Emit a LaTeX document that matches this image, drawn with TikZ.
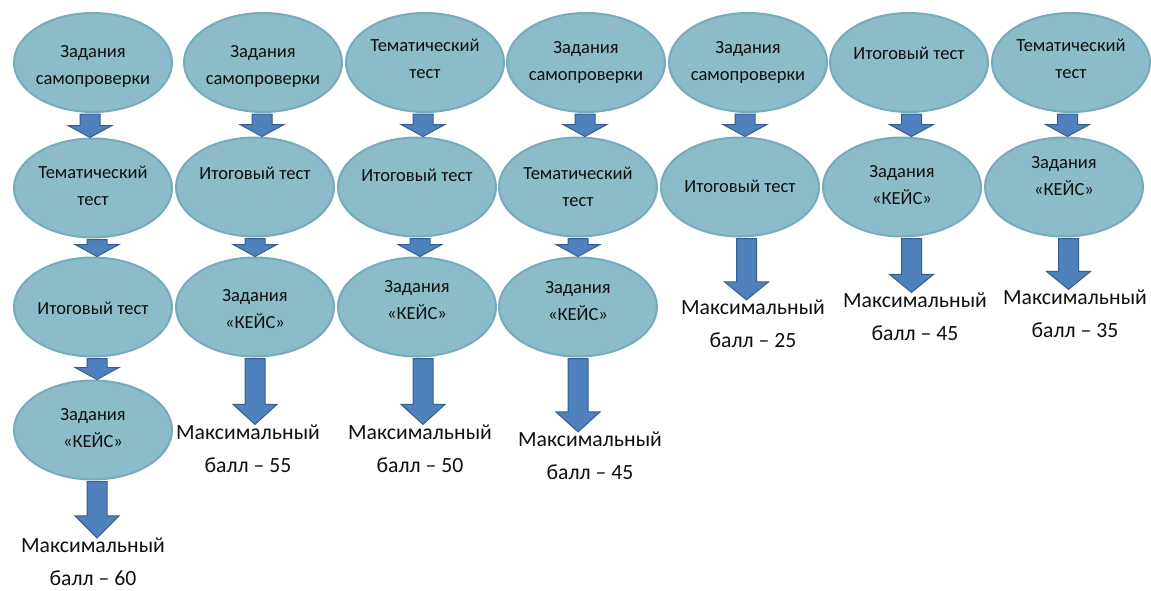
\documentclass[tikz,border=0pt]{standalone}
\usepackage{fontspec}
\setmainfont{Carlito}
\usetikzlibrary{shapes.geometric,calc}
\definecolor{elfill}{RGB}{140,188,201}
\definecolor{eldraw}{RGB}{118,170,188}
\definecolor{arfill}{RGB}{79,129,189}
\definecolor{ardraw}{RGB}{56,93,138}
\definecolor{txt}{RGB}{15,15,15}
\tikzset{
  oval/.style={ellipse, fill=elfill, draw=eldraw, line width=2pt,
    minimum width=158pt, minimum height=99pt, inner sep=0pt},
  otext/.style={align=center, font=\fontsize{18.5}{27}\selectfont, inner sep=0pt, text=txt},
  result/.style={align=center, font=\fontsize{21.7}{33}\selectfont, inner sep=0pt, text=txt},
  barr/.style={fill=arfill, draw=ardraw, line width=1pt, line join=miter},
}
% #1 from node, #2 to node, #3 head length, #4 x shift
\newcommand\barrow[4]{%
  \path[barr] let \p1=(#1.south), \p2=(#2.north), \n1={(\x1+\x2)/2+#4pt} in
   (\n1-10pt,\y1-1pt) -- (\n1+10pt,\y1-1pt) -- (\n1+10pt,\y2+#3) -- (\n1+22pt,\y2+#3)
   -- (\n1,\y2) -- (\n1-22pt,\y2+#3) -- (\n1-10pt,\y2+#3) -- cycle;}
\begin{document}
\begin{tikzpicture}[x=1pt,y=-1pt]
\useasboundingbox (0,0) rectangle (1151,590);
% column 1
\node[oval] (A1) at (93,62.5) {};
\node[otext] (A1t) at (93,66) {Задания\\самопроверки};
\node[oval] (A2) at (93,188) {};
\node[otext] (A2t) at (93,186) {Тематический\\тест};
\node[oval] (A3) at (93,307) {};
\node[otext] (A3t) at (93,308) {Итоговый тест};
\node[oval] (A4) at (93,430) {};
\node[otext] (A4t) at (93,428) {Задания\\«КЕЙС»};
\node[result] (F1) at (93,562) {Максимальный\\балл – 60};
% column 2
\node[oval] (B1) at (263,62.5) {};
\node[otext] (B1t) at (263,66) {Задания\\самопроверки};
\node[oval] (B2) at (255,187) {};
\node[otext] (B2t) at (255,173) {Итоговый тест};
\node[oval] (B3) at (255,307) {};
\node[otext] (B3t) at (255,309) {Задания\\«КЕЙС»};
\node[result] (F2) at (248,448.5) {Максимальный\\балл – 55};
% column 3
\node[oval] (C1) at (425,62.5) {};
\node[otext] (C1t) at (425,58.5) {Тематический\\тест};
\node[oval] (C2) at (417,187) {};
\node[otext] (C2t) at (417,175) {Итоговый тест};
\node[oval] (C3) at (417,307) {};
\node[otext] (C3t) at (417,300) {Задания\\«КЕЙС»};
\node[result] (F3) at (420,448.5) {Максимальный\\балл – 50};
% column 4
\node[oval] (D1) at (586,62.5) {};
\node[otext] (D1t) at (586,62.5) {Задания\\самопроверки};
\node[oval] (D2) at (578,187) {};
\node[otext] (D2t) at (578,186.5) {Тематический\\тест};
\node[oval] (D3) at (578,307) {};
\node[otext] (D3t) at (578,301) {Задания\\«КЕЙС»};
\node[result] (F4) at (590,456) {Максимальный\\балл – 45};
% column 5
\node[oval] (E1) at (748,62.5) {};
\node[otext] (E1t) at (748,62.5) {Задания\\самопроверки};
\node[oval] (E2) at (740,187) {};
\node[otext] (E2t) at (740,186) {Итоговый тест};
\node[result] (F5) at (753,324) {Максимальный\\балл – 25};
% column 6
\node[oval] (G1) at (909,62.5) {};
\node[otext] (G1t) at (909,53) {Итоговый тест};
\node[oval] (G2) at (902,187) {};
\node[otext] (G2t) at (902,185.5) {Задания\\«КЕЙС»};
\node[result] (F6) at (915,316.5) {Максимальный\\балл – 45};
% column 7
\node[oval] (H1) at (1071,62.5) {};
\node[otext] (H1t) at (1071,58.5) {Тематический\\тест};
\node[oval] (H2) at (1064,187) {};
\node[otext] (H2t) at (1064,176.5) {Задания\\«КЕЙС»};
\node[result] (F7) at (1075,313.5) {Максимальный\\балл – 35};
% arrows
\barrow{A1}{A2}{12pt}{-3}
\barrow{A2}{A3}{12pt}{4}
\barrow{A3}{A4}{12pt}{4}
\barrow{A4}{F1}{22pt}{4}
\barrow{B1}{B2}{12pt}{3}
\barrow{B2}{B3}{12pt}{0}
\barrow{B3}{F2}{20pt}{3.5}
\barrow{C1}{C2}{12pt}{2}
\barrow{C2}{C3}{12pt}{3}
\barrow{C3}{F3}{20pt}{4.5}
\barrow{D1}{D2}{12pt}{3}
\barrow{D2}{D3}{12pt}{0}
\barrow{D3}{F4}{20pt}{-6}
\barrow{E1}{E2}{12pt}{1}
\barrow{E2}{F5}{18pt}{0}
\barrow{G1}{G2}{12pt}{6}
\barrow{G2}{F6}{18pt}{3}
\barrow{H1}{H2}{12pt}{0}
\barrow{H2}{F7}{18pt}{-1}
\end{tikzpicture}
\end{document}
